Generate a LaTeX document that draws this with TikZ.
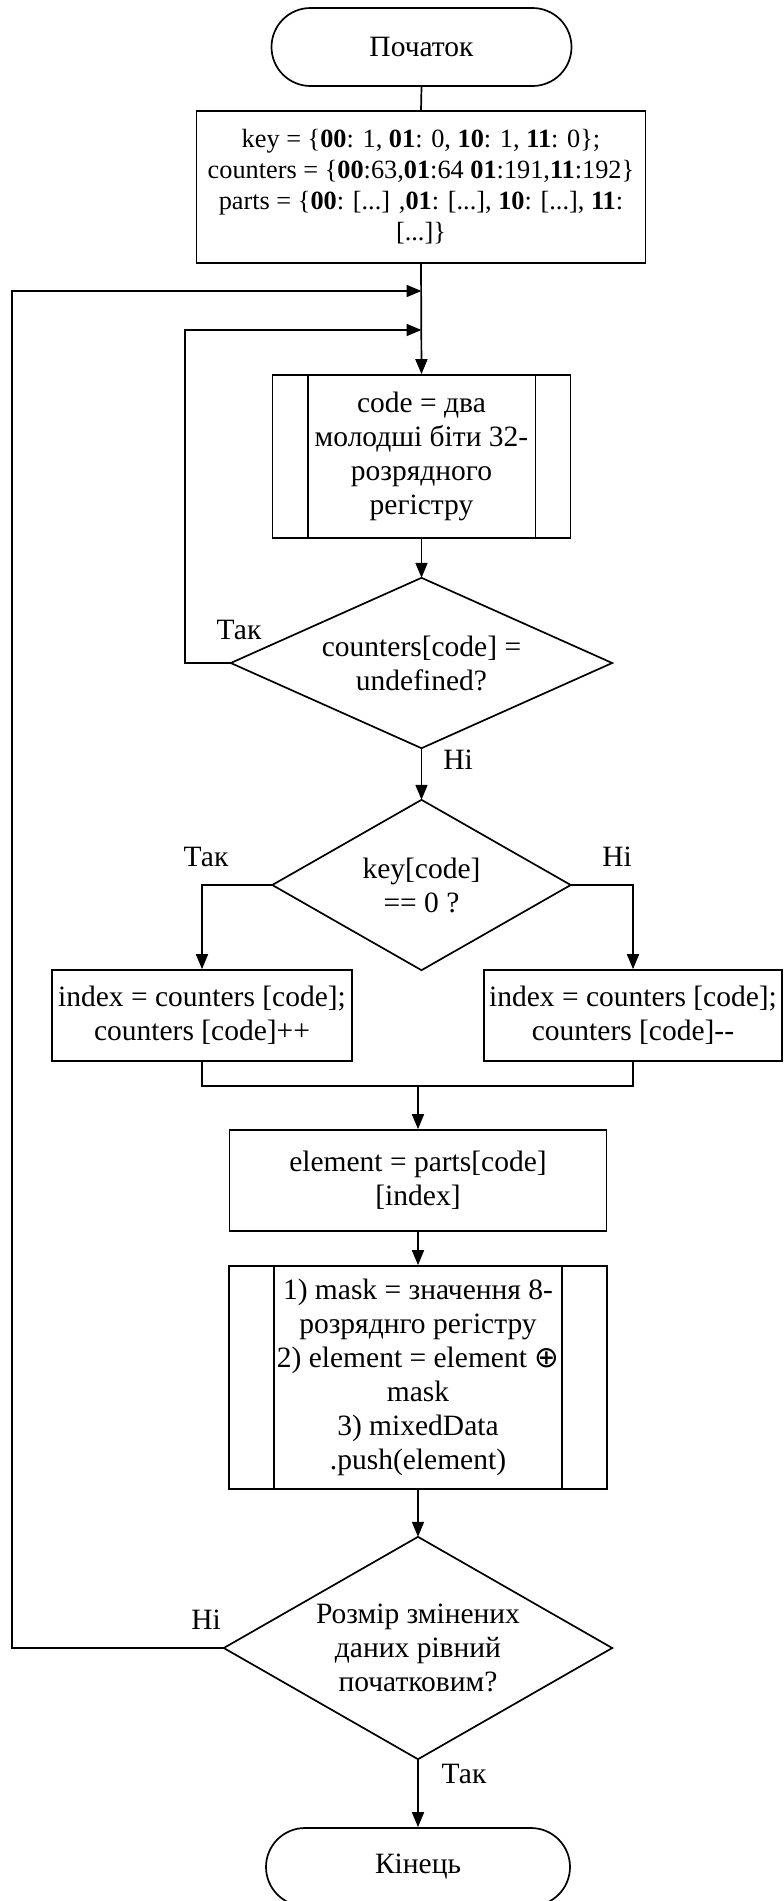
\documentclass[tikz,border=0pt]{standalone}
\usepackage{fontspec}
\setmainfont{Liberation Serif}
\newfontfamily\symfnt{DejaVu Sans}
\usetikzlibrary{arrows.meta}
\begin{document}
\begin{tikzpicture}[x=1pt,y=-1pt,
  every node/.style={font=\fontsize{29.5}{34}\selectfont, inner sep=0pt},
  ln/.style={line width=1.7pt},
  box/.style={draw, line width=1.7pt, align=center},
  term/.style={draw, line width=1.7pt, rounded corners=39pt, align=center},
  arr/.style={line width=1.7pt, -{Triangle[length=15pt,width=12pt]}},
  plain/.style={align=center}
]
\useasboundingbox (0,0) rectangle (784,1901);
\fill[white] (0,0) rectangle (784,1901);

\node[term, minimum width=300pt, minimum height=78pt] (start) at (421.5,47) {Початок};
\node[box, minimum width=449pt, minimum height=152pt, font=\fontsize{26.3}{31}\selectfont] (init) at (421,187)
  {key = \{\textbf{00}: 1, \textbf{01}: 0, \textbf{10}: 1, \textbf{11}: 0\};\\counters = \{\textbf{00}:63,\textbf{01}:64 \textbf{01}:191,\textbf{11}:192\}\\parts = \{\textbf{00}: [...] ,\textbf{01}: [...], \textbf{10}: [...], \textbf{11}:\\{}[...]\}};
\node[box, minimum width=298pt, minimum height=163pt] (code) at (421.5,456.5)
  {code = два\\молодші біти 32-\\розрядного\\регістру};
\draw[ln] ([xshift=36pt]code.north west) -- ([xshift=36pt]code.south west);
\draw[ln] ([xshift=-36pt]code.north east) -- ([xshift=-36pt]code.south east);

\node[plain, minimum width=381pt, minimum height=170pt] (dec1) at (421.5,663) {counters[code] =\\undefined?};
\draw[ln] (dec1.north) -- (dec1.east) -- (dec1.south) -- (dec1.west) -- cycle;

\node[plain, minimum width=298pt, minimum height=170pt] (dec2) at (421.5,885) {key[code]\\== 0 ?};
\draw[ln] (dec2.north) -- (dec2.east) -- (dec2.south) -- (dec2.west) -- cycle;

\node[box, minimum width=300pt, minimum height=91pt] (boxL) at (202,1015.5) {index = counters [code];\\counters [code]++};
\node[box, minimum width=298pt, minimum height=91pt] (boxR) at (633,1015.5) {index = counters [code];\\counters [code]-{}-};

\node[box, minimum width=377pt, minimum height=101pt] (element) at (418,1180.5) {element = parts[code]\\{}[index]};

\node[box, minimum width=378pt, minimum height=223pt] (sub2) at (418,1377.5)
  {1) mask = значення 8-\\розряднго регістру\\2) element = element {\symfnt ⊕}\\mask\\3) mixedData\\.push(element)};
\draw[ln] ([xshift=46pt]sub2.north west) -- ([xshift=46pt]sub2.south west);
\draw[ln] ([xshift=-46pt]sub2.north east) -- ([xshift=-46pt]sub2.south east);

\node[plain, minimum width=388pt, minimum height=222pt] (dec3) at (418,1648) {Розмір змінених\\даних рівний\\початковим?};
\draw[ln] (dec3.north) -- (dec3.east) -- (dec3.south) -- (dec3.west) -- cycle;

\node[term, minimum width=304pt, minimum height=78pt] (end) at (418,1867) {Кінець};

% connectors
\coordinate (j1) at (421.5,291);
\coordinate (j2) at (421.5,330);
\coordinate (lc1) at (12,291);
\coordinate (lc2) at (185,330);
\coordinate (m) at (418,1086);

\draw[ln] (start.south) -- (init.north);
\draw[arr] (init.south) -- (code.north);
\draw[arr] (dec3.west) -| (lc1) -- (j1);
\draw[arr] (dec1.west) -| (lc2) -- (j2);
\draw[arr] (code.south) -- (dec1.north);
\draw[arr] (dec1.south) -- (dec2.north);
\draw[arr] (dec2.west) -| (boxL.north);
\draw[arr] (dec2.east) -| (boxR.north);
\draw[ln] (boxL.south) |- (m) -| (boxR.south);
\draw[arr] (m) -- (element.north);
\draw[arr] (element.south) -- (sub2.north);
\draw[arr] (sub2.south) -- (dec3.north);
\draw[arr] (dec3.south) -- (end.north);

% labels
\node (l1) at (239,630) {Так};
\node (l2) at (458,760) {Ні};
\node (l3) at (206,857) {Так};
\node (l4) at (617,857) {Ні};
\node (l5) at (206,1620) {Ні};
\node (l6) at (464,1774) {Так};
\end{tikzpicture}
\end{document}
